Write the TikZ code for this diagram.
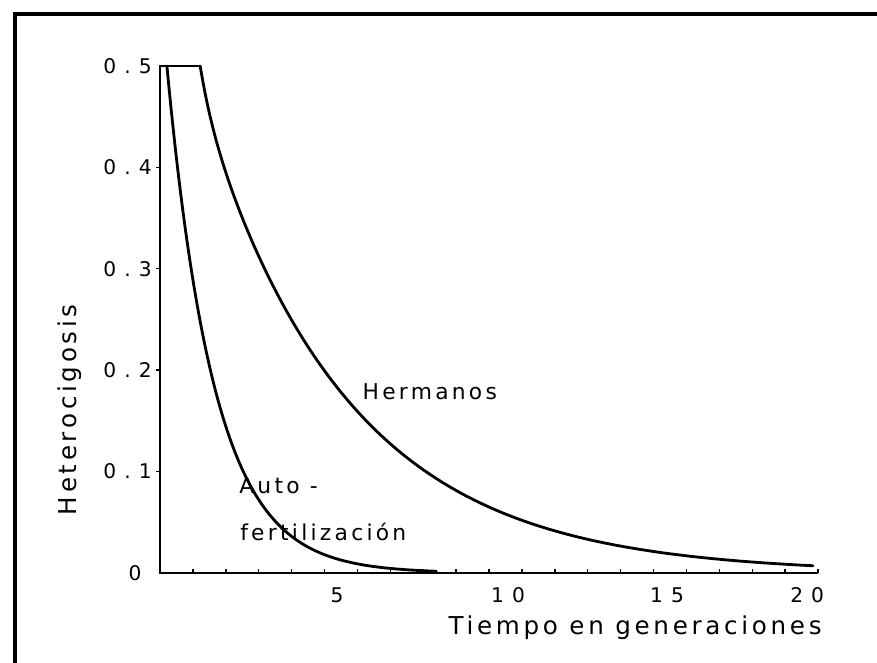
\documentclass[tikz,border=0pt]{standalone}
\usepackage{fontspec}
\newfontfamily\plotfont[LetterSpace=15]{DejaVu Sans}
\newfontfamily\tickfont[LetterSpace=40]{DejaVu Sans}
\usepackage{tikz}
\usetikzlibrary{calc}
\newcommand{\unitgen}{0.658cm}
\newcommand{\unithet}{20.28cm}
\tikzset{
    frame/.style={line width=2.6pt},
    axis/.style={line width=1.1pt},
    curve/.style={line width=1.6pt, line cap=round, line join=round},
    tickmark/.style={line width=0.8pt},
    ticklabel/.style={font=\tickfont\fontsize{11.5}{13}\selectfont, inner sep=0pt},
    curvelabel/.style={font=\plotfont\fontsize{12.4}{14}\selectfont, inner sep=0pt, anchor=west},
    title/.style={font=\plotfont\fontsize{14}{16}\selectfont, inner sep=0pt}
}

\begin{document}
\begin{tikzpicture}
    \useasboundingbox (0,0) rectangle (17.54,13.26);

    \coordinate (frame-bl) at (0.3,0);
    \coordinate (frame-tl) at (0.3,12.98);
    \coordinate (frame-tr) at (17.54,12.98);
    \draw[frame] (frame-bl) -- (frame-tl) -- (frame-tr);

    \begin{scope}[shift={(3.2cm,1.8cm)}, x=\unitgen, y=\unithet]
        \coordinate (o) at (0,0);
        \coordinate (x-end) at (20,0);
        \coordinate (y-end) at (0,0.5);
        \coordinate (plateau-end) at (1.22,0.5);

        \draw[axis] (x-end) -- (o) -- (y-end) -- (plateau-end);

        \foreach \t in {1,...,20}
            \draw[tickmark] (\t,0) -- ++(0,0.004);
        \foreach \h in {0.1,0.2,0.3,0.4}
            \draw[tickmark] (0,\h) -- ++(-0.12,0);

        \foreach \h/\n in {0.1/1,0.2/2,0.3/3,0.4/4,0.5/5}
            \node[ticklabel, anchor=east] (ylab-\n) at (-0.24,\h) {\h};
        \node[ticklabel, anchor=east] (ylab-0) at (-0.55,0) {0};
        \foreach \t/\lx in {5/5.38,10/10.58,15/15.41,20/19.67}
            \node[ticklabel] (xlab-\t) at (\lx,-0.022) {\t};

        \draw[curve] plot[domain=0.21:8.4, samples=120, smooth]
            (\x, {0.5*exp(-0.693*(\x-0.21))});
        \draw[curve] plot[domain=1.22:19.85, samples=160, smooth]
            (\x, {0.5*(0.93*exp(-0.224*(\x-1.22))+0.07*exp(-2.63*(\x-1.22)))});

        \node[curvelabel, anchor=center] (hermanos) at (8.2,0.1785) {Hermanos};
        \node[curvelabel] (auto) at (2.4,0.086) {Auto -};
        \node[curvelabel] (fert) at (2.43,0.040) {fertilización};

        \node[title] (xtitle) at (14.44,-0.054) {Tiempo en generaciones};
        \node[title, rotate=90] (ytitle) at (-2.74,0.161) {Heterocigosis};
    \end{scope}
\end{tikzpicture}
\end{document}
